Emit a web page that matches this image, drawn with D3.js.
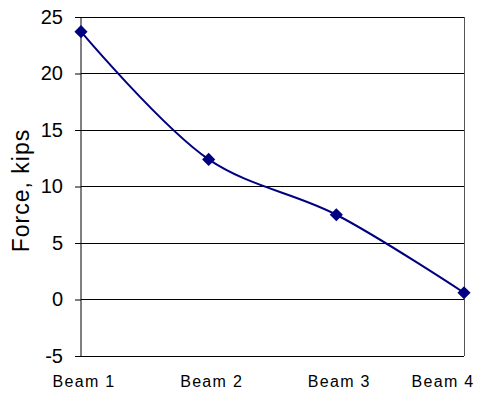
<!DOCTYPE html>
<html>
<head>
<meta charset="utf-8">
<script src="https://cdn.jsdelivr.net/npm/d3@7"></script>
<style>
  body { margin: 0; background: #fff; }
  svg { display: block; font-family: "Liberation Sans", Arial, sans-serif; }
</style>
</head>
<body>
<div class="chart"></div>
<script>
const beams = ["Beam 1", "Beam 2", "Beam 3", "Beam 4"];
const force = [23.7, 12.4, 7.5, 0.6];
const yTicks = [-5, 0, 5, 10, 15, 20, 25];

const W = 478, H = 394;
const margin = { top: 17, right: 14, bottom: 38, left: 81 };
const width = W - margin.left - margin.right,
  height = H - margin.top - margin.bottom;

const svg = d3.select(".chart").append("svg")
  .attr("width", W)
  .attr("height", H);

const g = svg.append("g")
  .attr("transform", "translate(" + margin.left + "," + margin.top + ")");

let xScale = d3.scalePoint().domain(beams).range([0, width]);
let yScale = d3.scaleLinear().domain([-5, 25]).range([height, 0]);

// gridlines
g.append("g")
  .selectAll("line")
  .data(yTicks.filter(t => t > -5))
  .enter().append("line")
  .attr("x1", 0).attr("x2", width)
  .attr("y1", d => yScale(d)).attr("y2", d => yScale(d))
  .attr("stroke", "#000")
  .attr("stroke-width", 1)
  .attr("shape-rendering", "crispEdges");

// right border
g.append("line")
  .attr("x1", width).attr("x2", width)
  .attr("y1", 0).attr("y2", height)
  .attr("stroke", "#555")
  .attr("shape-rendering", "crispEdges");

// y axis
const yAxis = d3.axisLeft(yScale).tickValues(yTicks).tickSize(6).tickPadding(12)
  .tickFormat(d => String(d).replace("\u2212", "-"));
g.append("g").attr("class", "y-axis").call(yAxis)
  .call(a => a.select(".domain").attr("stroke", "#000").attr("d", "M0,0V" + height))
  .call(a => a.selectAll("line").attr("stroke", "#000"))
  .selectAll("text")
  .attr("font-size", "20px")
  .attr("fill", "#000")
  .style("font-family", "'Liberation Sans', Arial, sans-serif");

// x axis (bottom line + labels)
g.append("line")
  .attr("x1", 0).attr("x2", width)
  .attr("y1", height).attr("y2", height)
  .attr("stroke", "#000")
  .attr("shape-rendering", "crispEdges");

g.append("g").attr("class", "x-labels")
  .selectAll("text")
  .data(beams)
  .enter().append("text")
  .attr("x", d => Math.min(xScale(d) + 3, width - 21))
  .attr("y", height + 31)
  .attr("text-anchor", "middle")
  .attr("font-size", "16px")
  .attr("letter-spacing", "1.3px")
  .text(d => d);

// line
const lineGen = d3.line()
  .x((d, i) => xScale(beams[i]))
  .y(d => yScale(d))
  .curve(d3.curveCatmullRom.alpha(0.5));

g.append("path")
  .datum(force)
  .attr("fill", "none")
  .attr("stroke", "#000080")
  .attr("stroke-width", 2)
  .attr("d", lineGen);

// diamonds
g.selectAll(".pt")
  .data(force)
  .enter().append("path")
  .attr("class", "pt")
  .attr("transform", (d, i) => "translate(" + xScale(beams[i]) + "," + yScale(d) + ")")
  .attr("d", d3.symbol().type(d3.symbolDiamond2).size(110))
  .attr("fill", "#000080");

// y label
svg.append("text")
  .attr("transform", "translate(29," + (margin.top + height / 2 + 4) + ") rotate(-90)")
  .attr("text-anchor", "middle")
  .attr("font-size", "23px")
  .attr("letter-spacing", "1px")
  .text("Force, kips");
</script>
</body>
</html>
